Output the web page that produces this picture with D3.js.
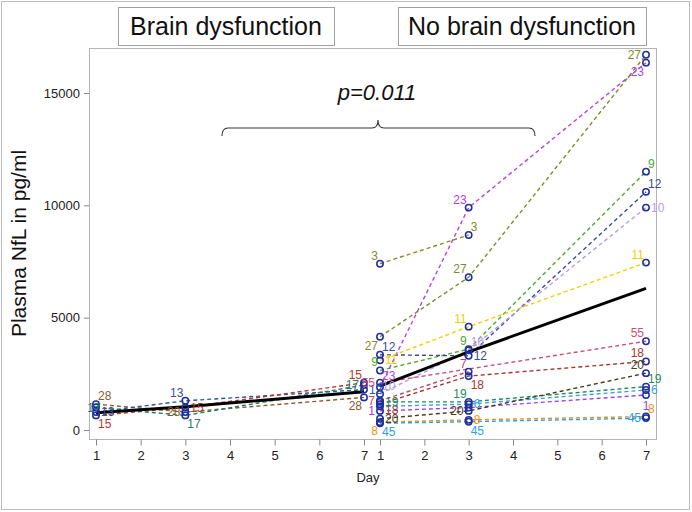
<!DOCTYPE html>
<html>
<head>
<meta charset="utf-8">
<script src="https://cdn.jsdelivr.net/npm/d3@7"></script>
<style>
  body { margin: 0; background: #fff; }
  svg { display: block; font-family: "Liberation Sans", Arial, sans-serif; }
</style>
</head>
<body>
<script>
// values (pg/ml), per day 1, 3, 7; null = no sample
const days = [1, 3, 7];
const dayTicks = [1, 2, 3, 4, 5, 6, 7];
const yTicks = [0, 5000, 10000, 15000];
const groupNames = ["Brain dysfunction", "No brain dysfunction"];

const leftIds = ["28", "13", "15", "17"];
const leftNfl = [
  [1150, 800, 1450],
  [800, 1300, 1800],
  [650, 1000, 2100],
  [1000, 650, 2000]
];
const leftMean = [770, 1040, 1700];

const rightIds = ["3", "23", "27", "9", "12", "10", "11", "55", "7", "18", "19", "6", "1", "20", "8", "45"];
const rightNfl = [
  [7400, 8680, null],
  [1900, 9900, 16350],
  [4150, 6800, 16700],
  [2650, 3600, 11500],
  [3350, 3300, 10600],
  [1600, 3550, 9900],
  [3100, 4600, 7450],
  [2100, null, 3950],
  [1300, 2600, null],
  [1150, 2400, 3050],
  [1250, 1250, 1930],
  [1050, 1150, 1780],
  [850, 1000, 1560],
  [500, 850, 2530],
  [350, 450, 600],
  [300, 370, 530]
];
const rightMean = [1950, 3480, 6300];

// styling, kept apart from the values
const colors = {
  "28": "#8a5a2a", "13": "#3450a0", "15": "#b8352c", "17": "#1f7d6c",
  "3": "#8a8a2a", "23": "#b444e0", "27": "#7f8c2c", "9": "#4fa832",
  "12": "#3b4a98", "10": "#b59cf0", "11": "#f0d000", "55": "#c8507c",
  "7": "#c04a6a", "18": "#a8362a", "19": "#1f8a62", "6": "#3aa0e8",
  "1": "#a040e0", "20": "#4a3a1a", "8": "#f0901a", "45": "#2aa0f0"
};
// where each data label sits relative to its point ("x" = hidden)
const labelPos = {
  "28-1": "ur", "28-3": "l", "28-7": "bl",
  "13-1": "r", "13-3": "ul", "13-7": "r",
  "15-1": "br", "15-3": "r", "15-7": "ul",
  "17-1": "c", "17-3": "br", "17-7": "l",
  "3-1": "ul", "3-3": "ur",
  "23-1": "uR", "23-3": "ul", "23-7": "bl",
  "27-1": "bl", "27-3": "ul", "27-7": "l",
  "9-1": "ul", "9-3": "ul", "9-7": "ur",
  "12-1": "ur", "12-3": "r", "12-7": "ur",
  "10-1": "ur", "10-3": "ur", "10-7": "r",
  "11-1": "r", "11-3": "ul", "11-7": "ul",
  "55-1": "l", "55-7": "ul",
  "7-1": "l", "7-3": "ul",
  "18-1": "rd", "18-3": "br", "18-7": "ul",
  "19-1": "r", "19-3": "ul", "19-7": "ur",
  "6-1": "x", "6-3": "r", "6-7": "r",
  "1-1": "l", "1-3": "x", "1-7": "b",
  "20-1": "r", "20-3": "l", "20-7": "ul",
  "8-1": "bl", "8-3": "r", "8-7": "ur",
  "45-1": "br", "45-3": "br", "45-7": "l"
};
const offsets = {
  l: [-5, 4, "end"], r: [5, 4, "start"], rd: [5, 10, "start"], ul: [-2, -4, "end"], ur: [2, -4, "start"],
  uR: [2, -7, "start"], bl: [-2, 13, "end"], br: [2, 13, "start"], b: [0, 15, "middle"],
  a: [0, -6, "middle"], c: [-2, 4, "middle"]
};

const w = 692, h = 512;
const frame = { left: 89, right: 656, top: 48, bottom: 439 };

const svg = d3.select("body").append("svg").attr("width", w).attr("height", h);

svg.append("rect").attr("x", 1.5).attr("y", 1.5).attr("width", w - 4).attr("height", h - 4)
   .attr("fill", "none").attr("stroke", "#bdbdbd");

const xLeft = d3.scaleLinear().domain([1, 7]).range([96, 364]);
const xRight = d3.scaleLinear().domain([1, 7]).range([380, 646]);
const y = d3.scaleLinear().domain([0, 15000]).range([430, 93]);

// group header boxes
const headers = [{ x: 118, w: 216 }, { x: 398, w: 248 }];
headers.forEach((b, i) => {
  svg.append("rect").attr("x", b.x + 0.5).attr("y", 7.5).attr("width", b.w).attr("height", 38)
     .attr("fill", "#fff").attr("stroke", "#a0a0a0");
  svg.append("text").attr("x", b.x + b.w / 2).attr("y", 35).attr("text-anchor", "middle")
     .attr("font-size", 25).attr("fill", "#111").text(groupNames[i]);
});

// plot frame
svg.append("rect").attr("x", frame.left + 0.5).attr("y", frame.top + 0.5)
   .attr("width", frame.right - frame.left).attr("height", frame.bottom - frame.top)
   .attr("fill", "none").attr("stroke", "#b4b4b4");

// axes
const yAxis = d3.axisLeft(y).tickValues(yTicks).tickSize(5).tickPadding(4).tickFormat(d3.format("d"));
const gy = svg.append("g").attr("transform", "translate(" + frame.left + ",0)").call(yAxis);
gy.select(".domain").remove();
gy.selectAll("line").attr("stroke", "#888");
gy.selectAll("text").attr("font-size", 13).attr("fill", "#222").attr("font-family", "Liberation Sans, Arial");

[xLeft, xRight].forEach(sc => {
  const gx = svg.append("g").attr("transform", "translate(0," + (frame.bottom + 0.5) + ")")
                .call(d3.axisBottom(sc).tickValues(dayTicks).tickSize(6).tickPadding(5).tickFormat(d3.format("d")));
  gx.select(".domain").remove();
  gx.selectAll("line").attr("stroke", "#888");
  gx.selectAll("text").attr("font-size", 13).attr("fill", "#222").attr("font-family", "Liberation Sans, Arial");
});

svg.append("text").attr("x", 368).attr("y", 482).attr("text-anchor", "middle")
   .attr("font-size", 13).attr("fill", "#222").text("Day");

svg.append("text").attr("transform", "translate(26," + ((frame.top + frame.bottom) / 2) + ") rotate(-90)")
   .attr("text-anchor", "middle").attr("font-size", 21).attr("fill", "#111").text("Plasma NfL in pg/ml");

// p value and brace
svg.append("text").attr("x", 377).attr("y", 100).attr("text-anchor", "middle")
   .attr("font-size", 22).attr("font-style", "italic").attr("fill", "#111").text("p=0.011");
svg.append("path")
   .attr("d", "M222,136 Q222,128 228,128 L372,128 Q378,128 378,120 Q378,128 384,128 L529,128 Q535,128 535,136")
   .attr("fill", "none").attr("stroke", "#333").attr("stroke-width", 1.1);

// build point lists
function series(ids, vals, sc) {
  return ids.map((id, i) => ({
    id: id,
    pts: days.map((d, j) => ({ day: d, v: vals[i][j] })).filter(p => p.v != null),
    sc: sc
  }));
}
const all = series(leftIds, leftNfl, xLeft).concat(series(rightIds, rightNfl, xRight));

const line = sc => d3.line().x(p => sc(p.day)).y(p => y(p.v));

svg.append("g").selectAll("path").data(all).enter().append("path")
   .attr("d", s => line(s.sc)(s.pts))
   .attr("fill", "none")
   .attr("stroke", s => colors[s.id])
   .attr("stroke-width", 1.4)
   .attr("stroke-dasharray", "4,3");

const means = [{ sc: xLeft, v: leftMean }, { sc: xRight, v: rightMean }];
svg.append("g").selectAll("path").data(means).enter().append("path")
   .attr("d", m => line(m.sc)(days.map((d, j) => ({ day: d, v: m.v[j] }))))
   .attr("fill", "none").attr("stroke", "#000").attr("stroke-width", 3);

const pts = all.flatMap(s => s.pts.map(p => ({ id: s.id, day: p.day, v: p.v, sc: s.sc })));

svg.append("g").selectAll("circle").data(pts).enter().append("circle")
   .attr("cx", p => p.sc(p.day)).attr("cy", p => y(p.v)).attr("r", 3.2)
   .attr("fill", "none").attr("stroke", "#1f2f9c").attr("stroke-width", 1.5);

svg.append("g").selectAll("text").data(pts.filter(p => (labelPos[p.id + "-" + p.day] || "ul") !== "x"))
   .enter().append("text")
   .each(function (p) {
     const o = offsets[labelPos[p.id + "-" + p.day] || "ul"];
     d3.select(this)
       .attr("x", p.sc(p.day) + o[0]).attr("y", y(p.v) + o[1])
       .attr("text-anchor", o[2]);
   })
   .attr("font-size", 12)
   .attr("fill", p => colors[p.id])
   .text(p => p.id);
</script>
</body>
</html>
